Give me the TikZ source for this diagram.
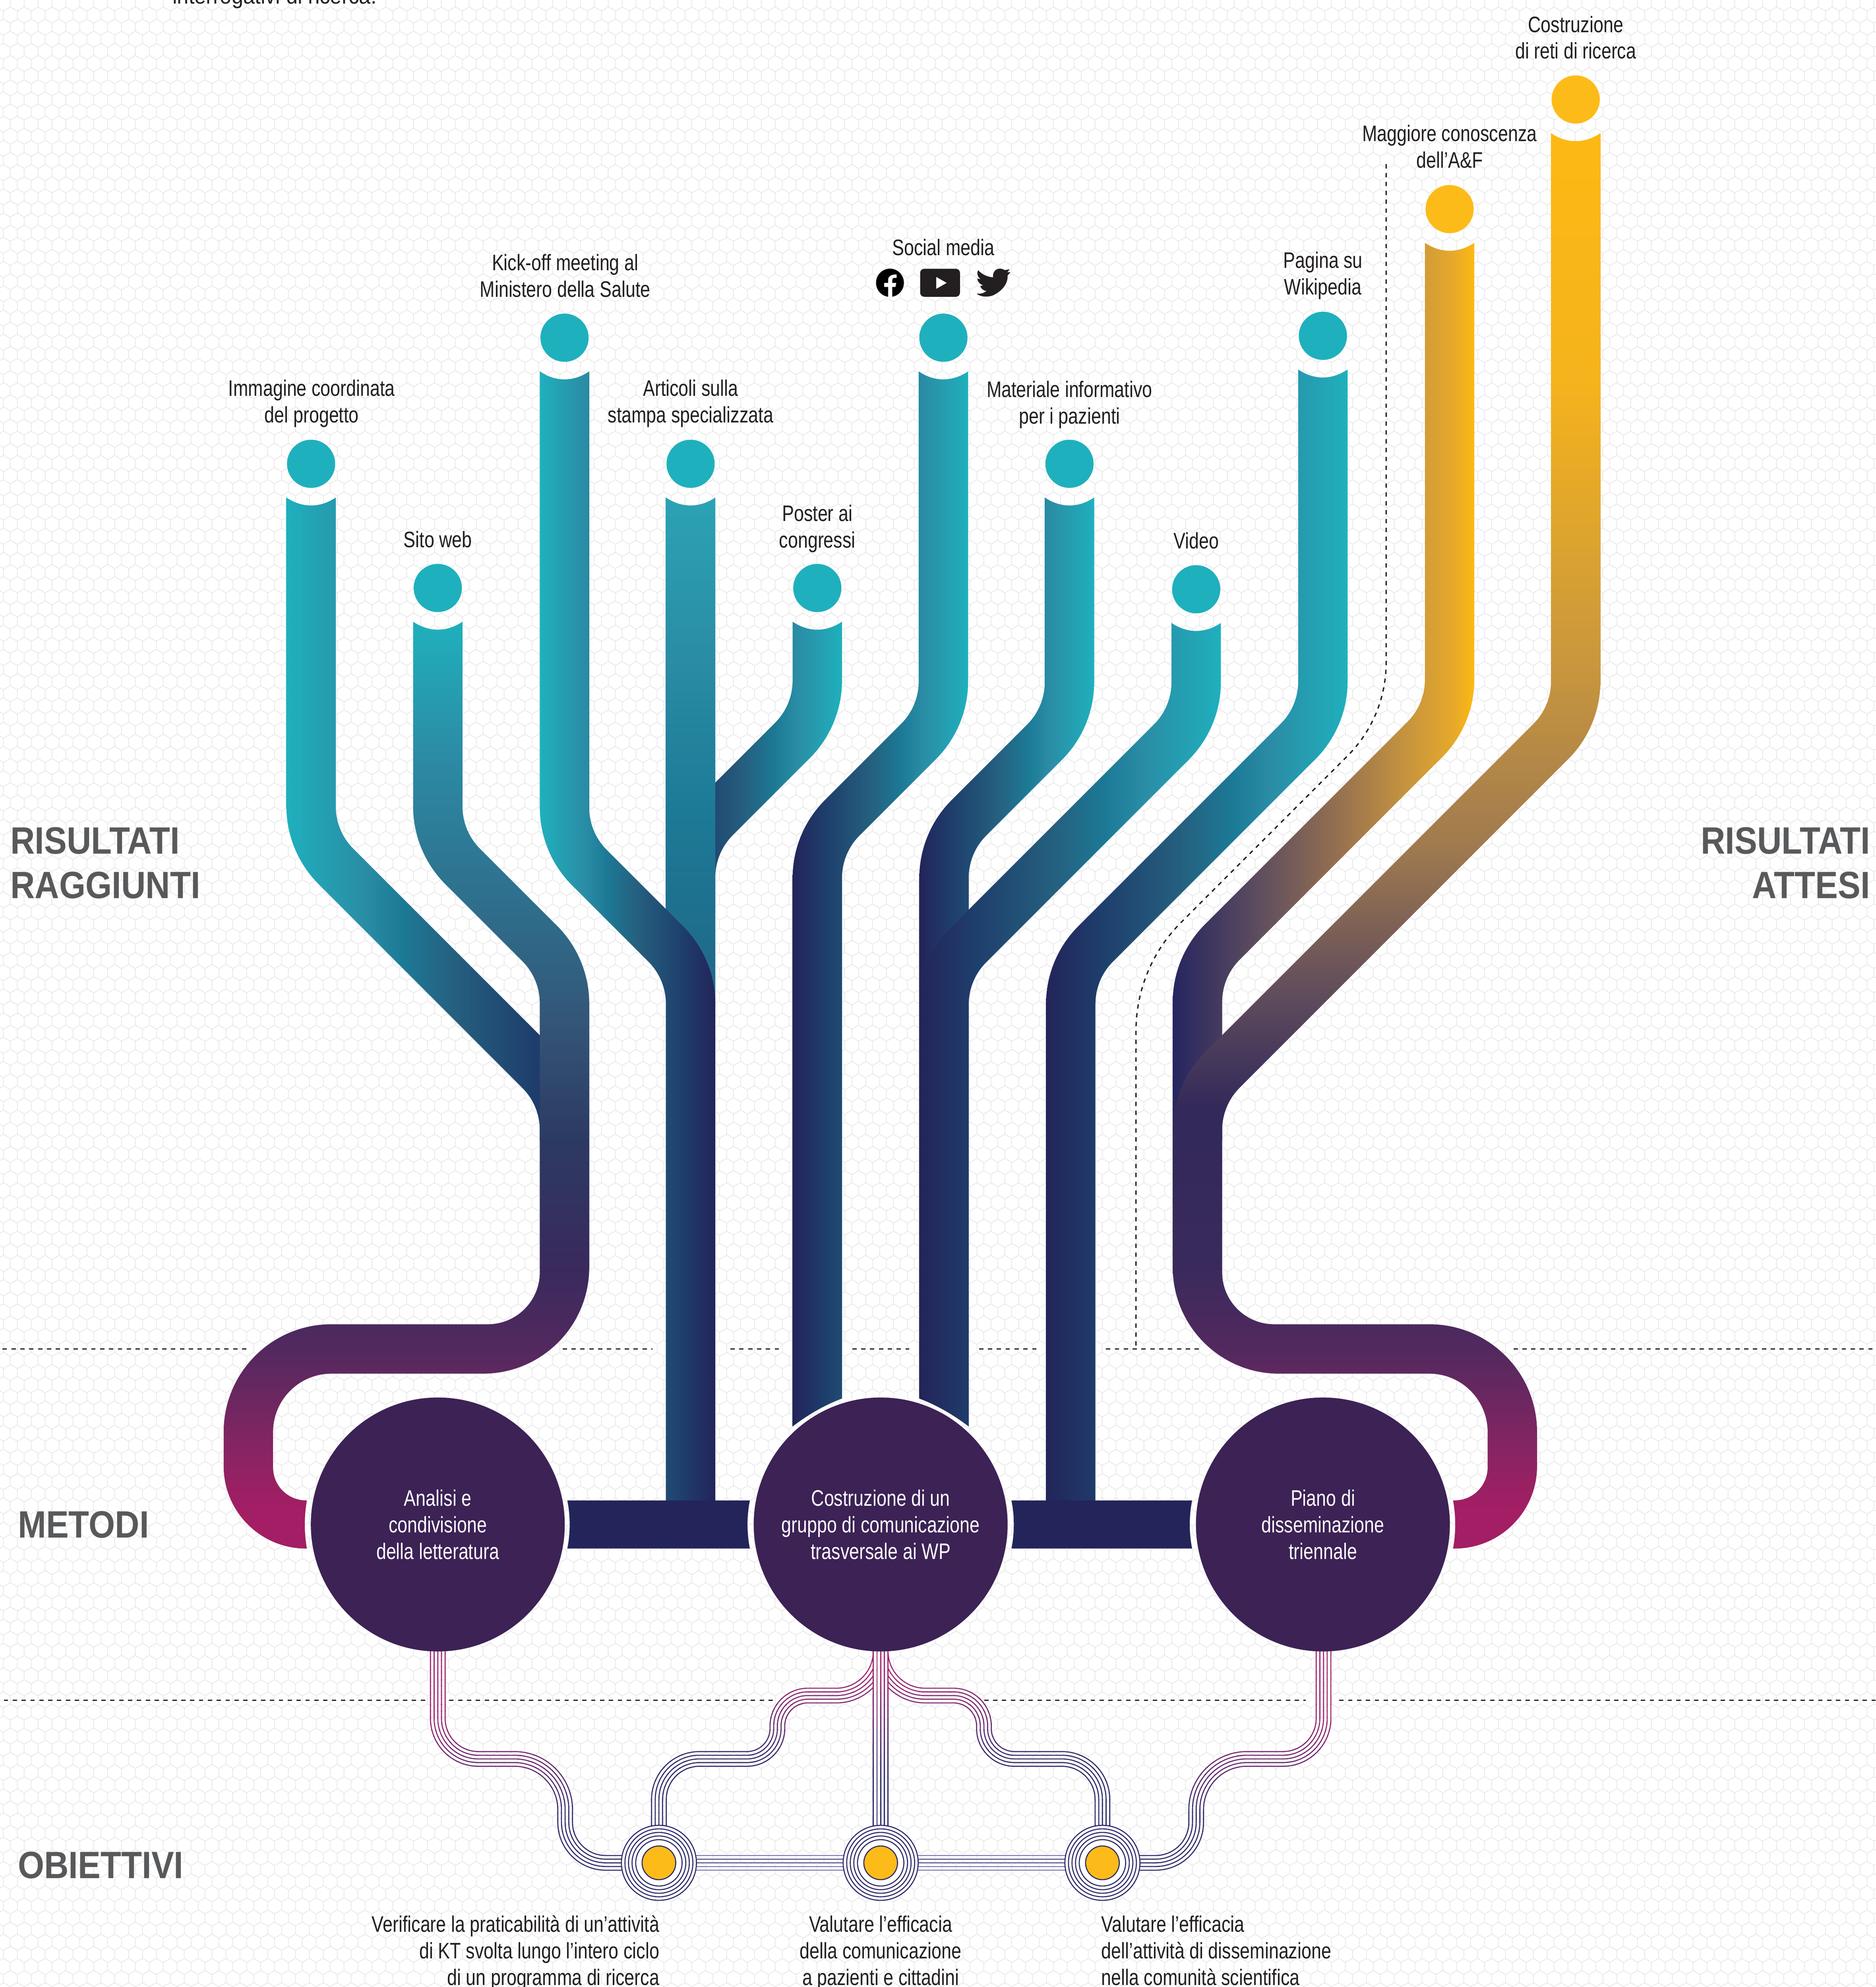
\documentclass[tikz,border=0pt]{standalone}
\usepackage{fontspec}
\setmainfont{Liberation Sans}
\newfontfamily\labff[FakeStretch=0.795]{Liberation Sans}
\newfontfamily\topff[FakeStretch=0.93]{Liberation Sans}
\newfontfamily\headff[FakeStretch=0.89]{Liberation Sans}
\usetikzlibrary{calc,patterns}
\definecolor{cteal}{HTML}{1FB0BD}
\definecolor{cnavy}{HTML}{23245A}
\definecolor{cyel}{HTML}{FDBB1A}
\definecolor{cdark}{HTML}{3C2255}
\definecolor{ctext}{HTML}{231F20}
\definecolor{chead}{HTML}{58595B}
\definecolor{g1}{HTML}{1E3F6C}
\definecolor{g2}{HTML}{25607F}
\definecolor{g3}{HTML}{1C7A96}
\definecolor{g4}{HTML}{2A8CA5}
\definecolor{strMag}{HTML}{A0246F}
\definecolor{strNavy}{HTML}{2A2866}
\definecolor{strLink}{HTML}{6A6AA3}
\definecolor{hexc}{HTML}{E2E2E2}
\newcommand{\mkc}[2]{\definecolor{#1}{HTML}{#2}}
\mkc{b1}{2C8AA4}\mkc{b2}{2F6A88}\mkc{b3}{345577}\mkc{b4}{2C3A63}\mkc{b5}{3A2A5C}\mkc{b6}{52295F}\mkc{b7}{8A2462}\mkc{b8}{A31E64}
\mkc{d0}{2BA3B4}\mkc{d3}{216688}
\mkc{j0}{28265F}\mkc{j1}{33295A}
\mkc{u0}{262560}\mkc{u1}{5F4E5E}\mkc{u2}{8F6C52}\mkc{u3}{C5933F}\mkc{u4}{E6A92A}\mkc{u5}{FDB913}
\mkc{k1}{F5B31D}\mkc{k2}{C9973D}\mkc{k3}{A07A4F}\mkc{k4}{5D4A5C}
\pgfdeclarehorizontalshading{navyteal}{100bp}{color(0bp)=(cnavy); color(25bp)=(cnavy); color(34.5bp)=(g1); color(47.5bp)=(g2); color(56bp)=(g3); color(62bp)=(g4); color(75bp)=(cteal); color(100bp)=(cteal)}
\pgfdeclarehorizontalshading{tealnavy}{100bp}{color(0bp)=(cteal); color(25bp)=(cteal); color(38bp)=(g4); color(44bp)=(g3); color(52.5bp)=(g2); color(65.5bp)=(g1); color(75bp)=(cnavy); color(100bp)=(cnavy)}
\pgfdeclareverticalshading{bshade}{100bp}{color(0bp)=(b8); color(27.25bp)=(b8); color(30bp)=(b7); color(35.8bp)=(b6); color(40bp)=(b5); color(47bp)=(b4); color(53.3bp)=(b3); color(58.5bp)=(b2); color(67.5bp)=(b1); color(75bp)=(cteal); color(100bp)=(cteal)}
\pgfdeclareverticalshading{dshade}{100bp}{color(0bp)=(d3); color(25bp)=(d3); color(44bp)=(g3); color(59bp)=(g4); color(75bp)=(d0); color(100bp)=(d0)}
\pgfdeclareverticalshading{jlow}{100bp}{color(0bp)=(b8); color(29.5bp)=(b8); color(35bp)=(b7); color(46.8bp)=(b6); color(55.6bp)=(b5); color(69.5bp)=(j1); color(75bp)=(j0); color(100bp)=(j0)}
\pgfdeclarehorizontalshading{jup}{100bp}{color(0bp)=(u0); color(25bp)=(u0); color(39.5bp)=(u1); color(51bp)=(u2); color(63.5bp)=(u3); color(71.5bp)=(u4); color(75bp)=(u5); color(100bp)=(u5)}
\pgfdeclareverticalshading{kshade}{100bp}{color(0bp)=(j1); color(26.6bp)=(j1); color(31.9bp)=(k4); color(39.6bp)=(k3); color(48.7bp)=(k2); color(62.7bp)=(k1); color(75bp)=(u5); color(100bp)=(u5)}
\newcommand{\hexcell}[2]{%
  \pgfpathmoveto{\pgfpoint{#1+0pt}{#2+3.185pt}}\pgfpathlineto{\pgfpoint{#1+0pt}{#2+9.555pt}}%
  \pgfpathlineto{\pgfpoint{#1+5.515pt}{#2+12.74pt}}\pgfpathlineto{\pgfpoint{#1+11.03pt}{#2+9.555pt}}%
  \pgfpathmoveto{\pgfpoint{#1+0pt}{#2+3.185pt}}\pgfpathlineto{\pgfpoint{#1+5.515pt}{#2+0pt}}%
  \pgfpathlineto{\pgfpoint{#1+11.03pt}{#2+3.185pt}}%
  \pgfpathmoveto{\pgfpoint{#1+5.515pt}{#2+12.74pt}}\pgfpathlineto{\pgfpoint{#1+5.515pt}{#2+19.11pt}}}
\pgfdeclarepatternformonly{hexbg}{\pgfpointorigin}{\pgfqpoint{11.03pt}{19.11pt}}{\pgfqpoint{11.03pt}{19.11pt}}{%
  \pgfsetlinewidth{.42pt}%
  \hexcell{3.1pt}{0.26pt}\hexcell{-7.93pt}{0.26pt}\hexcell{3.1pt}{-18.85pt}\hexcell{-7.93pt}{-18.85pt}%
  \pgfusepath{stroke}}
% rounded corners: 45-degree bend and 90-degree bend
\newcommand{\rB}[4]{-- ($(#2)!1pt*#4!(#1)$) .. controls ($(#2)!.36pt*#4!(#1)$) and ($(#2)!.36pt*#4!(#3)$) .. ($(#2)!1pt*#4!(#3)$)}
\newcommand{\rC}[4]{-- ($(#2)!1pt*#4!(#1)$) .. controls ($(#2)!.4477pt*#4!(#1)$) and ($(#2)!.4477pt*#4!(#3)$) .. ($(#2)!1pt*#4!(#3)$)}
% pipe descending to the right: x1, cap y, x2, c (y-x), yL, yR, shading
\newcommand{\pipeR}[7]{%
  \coordinate (t1) at ({#1-19.5},{#2+26.6});
  \coordinate (t2) at ({#1+19.5},{#2+26.6});
  \coordinate (pa) at ({#1-19.5},{#1-19.5+#4+27.65});
  \coordinate (pb) at ({#3-19.5},{#3-19.5+#4+27.65});
  \coordinate (bl) at ({#3-19.5},{#5});
  \coordinate (br) at ({#3+19.5},{#6});
  \coordinate (pc) at ({#3+19.5},{#3+19.5+#4-27.65});
  \coordinate (pd) at ({#1+19.5},{#1+19.5+#4-27.65});
  \shade[shading=#7] (t1) \rB{t1}{pa}{pb}{36} \rB{pa}{pb}{bl}{19.5} -- (bl) -- (br) \rB{br}{pc}{pd}{36} \rB{pc}{pd}{t2}{19.5} -- (t2) .. controls ({#1+7},{#2+35}) and ({#1-7},{#2+35}) .. (t1) -- cycle;
}
% pipe descending to the left: x1, cap y, x2, s (y+x), yL, yR, shading
\newcommand{\pipeL}[7]{%
  \coordinate (t1) at ({#1-19.5},{#2+26.6});
  \coordinate (t2) at ({#1+19.5},{#2+26.6});
  \coordinate (pd) at ({#1-19.5},{#4-27.65-#1+19.5});
  \coordinate (pc) at ({#3-19.5},{#4-27.65-#3+19.5});
  \coordinate (bl) at ({#3-19.5},{#5});
  \coordinate (br) at ({#3+19.5},{#6});
  \coordinate (pb) at ({#3+19.5},{#4+27.65-#3-19.5});
  \coordinate (pa) at ({#1+19.5},{#4+27.65-#1-19.5});
  \shade[shading=#7] (t1) \rB{t1}{pd}{pc}{19.5} \rB{pd}{pc}{bl}{36} -- (bl) .. controls ({#3-6.5},{(2*#5+#6)/3-2.5}) and ({#3+6.5},{(#5+2*#6)/3-2.5}) .. (br) \rB{br}{pb}{pa}{19.5} \rB{pb}{pa}{t2}{36} -- (t2) .. controls ({#1+7},{#2+35}) and ({#1-7},{#2+35}) .. (t1) -- cycle;
}
% colour-graded bundle of five fine lines: x0, x1 of a clip, y where the grade starts and ends, body using \dd
\newcommand{\gradstrand}[5]{%
  \foreach \yy in {1300,1305,...,1440} {%
    \pgfmathsetmacro\ttv{max(0,min(100,(\yy-#3)*100/(#4-#3)))}%
    \colorlet{sc}{strNavy!\ttv!strMag}%
    \begin{scope}
      \clip (#1,\yy) rectangle (#2,\yy+5.4);
      \foreach \dd in {-5.8,-2.9,0,2.9,5.8} {#5}
    \end{scope}
  }%
  \begin{scope}
    \clip (#1,1445) rectangle (#2,1480);
    \colorlet{sc}{strNavy}%
    \foreach \dd in {-5.8,-2.9,0,2.9,5.8} {#5}
  \end{scope}%
}
\tikzset{
  strand/.style={line width=.8pt,color=sc},
  ringline/.style={draw=strNavy,line width=.8pt,circle,inner sep=0pt},
  link/.style={line width=.8pt,color=strLink},
  dashline/.style={line width=1.05pt,color=ctext,dash pattern=on 3.4pt off 3.6pt},
  fixrules/.style={execute at begin node={\rule{0pt}{16pt}},execute at end node={\rule[-4pt]{0pt}{4pt}}},
  labeltext/.style={fixrules,font=\labff\fontsize{17.7}{21}\selectfont,text=ctext,align=center,inner sep=0pt},
  multitext/.style={labeltext,yshift=-2pt},
  headtext/.style={font=\headff\bfseries\fontsize{30}{35}\selectfont,text=chead,inner sep=0pt},
  dotteal/.style={circle,fill=cteal,minimum size=38pt,inner sep=0pt},
  dotyel/.style={circle,fill=cyel,minimum size=38pt,inner sep=0pt},
  bigcirc/.style={circle,fill=cdark,minimum size=200.4pt,inner sep=0pt},
}
\begin{document}
\begin{tikzpicture}[x=1pt,y=-1pt]
\useasboundingbox (0,0) rectangle (1480.3,1568);
\begin{scope}
\clip (0,0) rectangle (1480.3,1568);
\fill[white] (0,0) rectangle (1480.3,1568);
\fill[pattern=hexbg,pattern color=hexc] (0,0) rectangle (1480.3,1568);
% dashed rules
\foreach \a/\b in {2/196,444/515,576.4/616,672.6/717.6,772.6/819.4,872.8/946.7,1194.4/1480.3}
  \draw[dashline] (\a,1064.4) -- (\b,1064.4);
\foreach \a/\b in {3/336.5,354.5/611.6,776.7/1030.5,1056.9/1480.3}
  \draw[dashline] (\a,1341.8) -- (\b,1341.8);
\coordinate (q0) at (1093.9,129.5);
\coordinate (q1) at (1093.9,566);
\coordinate (q2) at (896.5,763.5);
\coordinate (q3) at (896.5,1063);
\draw[dashline] (q0) \rB{q0}{q1}{q2}{43} \rB{q1}{q2}{q3}{50} -- (q3);
% pipes
\pipeR{245.5}{366}{445.5}{418.6}{900}{900}{tealnavy}
% Sito web, down to the method circle
\coordinate (t1) at (326,490.6);
\coordinate (t2) at (365,490.6);
\coordinate (pa) at (326,672.25);
\coordinate (pb) at (426,772.25);
\coordinate (pc) at (426,1045);
\coordinate (pd) at (176.5,1045);
\coordinate (pe) at (176.5,1222);
\coordinate (pf) at (242.2,1222);
\coordinate (pg) at (242.2,1184);
\coordinate (ph) at (215.5,1184);
\coordinate (pi) at (215.5,1084);
\coordinate (pj) at (465,1084);
\coordinate (pk) at (465,755.95);
\coordinate (pl) at (365,655.95);
\shade[shading=bshade] (t1) \rB{t1}{pa}{pb}{36} \rB{pa}{pb}{pc}{19.5} \rC{pb}{pc}{pd}{41} \rC{pc}{pd}{pe}{85} \rC{pd}{pe}{pf}{65} -- (pf) .. controls (240,1210) and (240,1196) .. (pg) \rC{pg}{ph}{pi}{26} \rC{ph}{pi}{pj}{46} \rC{pi}{pj}{pk}{84} \rB{pj}{pk}{pl}{36} \rB{pk}{pl}{t2}{19.5} -- (t2) .. controls (352.5,499) and (338.5,499) .. (t1) -- cycle;
\pipeL{645}{464}{545}{1209.7}{720}{720}{navyteal}
% Articoli
\shade[shading=dshade] (525.5,392.6) -- (525.5,750) -- (564.5,795) -- (564.5,392.6) .. controls (552,401) and (538,401) .. (525.5,392.6) -- cycle;
\pipeR{445.5}{266.5}{545}{219.5}{1195}{1195}{tealnavy}
\pipeL{744.5}{266.5}{645}{1310}{1125.6}{1103.6}{navyteal}
\pipeL{844}{366}{745}{1410}{1103.6}{1125.6}{navyteal}
\pipeL{944}{465}{745}{1510}{1103.6}{1125.6}{navyteal}
\pipeL{1044}{265}{845}{1609.5}{1195}{1195}{navyteal}
% lower part of the right-hand pipe
\coordinate (ja) at (925.5,860);
\coordinate (jb) at (925.5,1084);
\coordinate (jc) at (1174,1084);
\coordinate (jd) at (1174,1184);
\coordinate (je) at (1146.7,1184);
\coordinate (jf) at (1146.7,1222);
\coordinate (jg) at (1213,1222);
\coordinate (jh) at (1213,1045);
\coordinate (ji) at (964.5,1045);
\coordinate (jj) at (964.5,860);
\shade[shading=jlow] (ja) \rC{ja}{jb}{jc}{84} \rC{jb}{jc}{jd}{46} \rC{jc}{jd}{je}{26} -- (je) .. controls (1149,1196) and (1149,1210) .. (jf) \rC{jf}{jg}{jh}{65} \rC{jg}{jh}{ji}{85} \rC{jh}{ji}{jj}{41} -- (jj) -- cycle;
\pipeL{1144}{165}{945}{1708}{864}{864}{jup}
\pipeL{1243.5}{78.5}{945}{1809}{900}{900}{kshade}
% horizontal bars between method circles
\coordinate (m1) at (345.5,1203);
\coordinate (m2) at (695,1203);
\coordinate (m3) at (1044,1203);
\fill[cnavy] (447.7,1184) .. controls (450.2,1196) and (450.2,1210) .. (447.7,1222) -- (591.8,1222) .. controls (589.3,1210) and (589.3,1196) .. (591.8,1184) -- cycle;
\fill[cnavy] (798.2,1184) .. controls (800.7,1196) and (800.7,1210) .. (798.2,1222) -- (940.8,1222) .. controls (938.3,1210) and (938.3,1196) .. (940.8,1184) -- cycle;
% fine lines
\coordinate (r1) at (520,1470);
\coordinate (r2) at (695,1470);
\coordinate (r3) at (870,1470);
\foreach \dd in {-5.8,-2.9,0,2.9,5.8} {
  \draw[link] ([yshift=\dd pt]r1) -- ([yshift=\dd pt]r2);
  \draw[link] ([yshift=\dd pt]r2) -- ([yshift=\dd pt]r3);
}
\gradstrand{0}{1480}{1350}{1430}{%
  \coordinate (s0) at ({345.5+\dd},1303);
  \coordinate (s1) at ({345.5+\dd},{1388-\dd});
  \coordinate (s2) at ({446+\dd},{1388-\dd});
  \coordinate (s3) at ({446+\dd},{1470-\dd});
  \coordinate (s4) at (492,{1470-\dd});
  \draw[strand] (s0) \rC{s0}{s1}{s2}{(32-\dd)} \rC{s1}{s2}{s3}{(40+\dd)} \rC{s2}{s3}{s4}{(32-\dd)} -- (s4);
  \coordinate (s0) at ({1044.5-\dd},1303);
  \coordinate (s1) at ({1044.5-\dd},{1388-\dd});
  \coordinate (s2) at ({944-\dd},{1388-\dd});
  \coordinate (s3) at ({944-\dd},{1470-\dd});
  \coordinate (s4) at (898,{1470-\dd});
  \draw[strand] (s0) \rC{s0}{s1}{s2}{(32-\dd)} \rC{s1}{s2}{s3}{(40+\dd)} \rC{s2}{s3}{s4}{(32-\dd)} -- (s4);
}
\gradstrand{0}{1480}{1320}{1395}{%
  \draw[strand] ({695+\dd},1303) -- ({695+\dd},1445);
}
\gradstrand{0}{689}{1320}{1390}{%
  \coordinate (s0) at ({695+\dd},1303);
  \coordinate (s1) at ({695+\dd},{1338+\dd});
  \coordinate (s2) at ({613.5+\dd},{1338+\dd});
  \coordinate (s3) at ({613.5+\dd},{1388+\dd});
  \coordinate (s4) at ({520+\dd},{1388+\dd});
  \coordinate (s5) at ({520+\dd},1445);
  \draw[strand] (s0) \rC{s0}{s1}{s2}{(35+\dd)} \rC{s1}{s2}{s3}{(24-\dd)} \rC{s2}{s3}{s4}{(24+\dd)} \rC{s3}{s4}{s5}{(32-\dd)} -- (s5);
}
\gradstrand{701}{1480}{1320}{1390}{%
  \coordinate (s0) at ({695-\dd},1303);
  \coordinate (s1) at ({695-\dd},{1338+\dd});
  \coordinate (s2) at ({776.5-\dd},{1338+\dd});
  \coordinate (s3) at ({776.5-\dd},{1388+\dd});
  \coordinate (s4) at ({870-\dd},{1388+\dd});
  \coordinate (s5) at ({870-\dd},1445);
  \draw[strand] (s0) \rC{s0}{s1}{s2}{(35+\dd)} \rC{s1}{s2}{s3}{(24-\dd)} \rC{s2}{s3}{s4}{(24+\dd)} \rC{s3}{s4}{s5}{(32-\dd)} -- (s5);
}
% target rings
\foreach \n in {r1,r2,r3} {
  \node[ringline,fill=white,minimum size=59.2pt] (\n o) at (\n) {};
  \foreach \s in {53.6,48,42.4,36.6} \node[ringline,minimum size=\s pt] at (\n) {};
  \node[ringline,fill=cyel,minimum size=26.6pt] (\n c) at (\n) {};
}
% method circles
\node[bigcirc] (mc1) at (m1) {};
\node[bigcirc] (mc2) at (m2) {};
\node[bigcirc] (mc3) at (m3) {};
\node[multitext,text=white] (mt1) at (mc1) {Analisi e\\condivisione\\della letteratura};
\node[multitext,text=white] (mt2) at (mc2) {Costruzione di un\\gruppo di comunicazione\\trasversale ai WP};
\node[multitext,text=white] (mt3) at (mc3) {Piano di\\disseminazione\\triennale};
% result dots
\node[dotteal] (d1) at (245.5,366) {};
\node[dotteal] (d2) at (345.5,464) {};
\node[dotteal] (d3) at (445.5,266.5) {};
\node[dotteal] (d4) at (545,366) {};
\node[dotteal] (d5) at (645,464) {};
\node[dotteal] (d6) at (744.5,266.5) {};
\node[dotteal] (d7) at (844,366) {};
\node[dotteal] (d8) at (944,465) {};
\node[dotteal] (d9) at (1044,265) {};
\node[dotyel] (d10) at (1144,165) {};
\node[dotyel] (d11) at (1243.5,78.5) {};
% labels
\node[multitext] (l1) at (246,316.5) {Immagine coordinata\\del progetto};
\node[labeltext] (l2) at (345.5,426) {Sito web};
\node[multitext] (l3) at (446,217.5) {Kick-off meeting al\\Ministero della Salute};
\node[multitext] (l4) at (545,316.5) {Articoli sulla\\stampa specializzata};
\node[multitext] (l5) at (645,415.5) {Poster ai\\congressi};
\node[labeltext] (l6) at (744.5,195.5) {Social media};
\node[multitext] (l7) at (844,317.5) {Materiale informativo\\per i pazienti};
\node[labeltext] (l8) at (944,427) {Video};
\node[multitext] (l9) at (1044,215.5) {Pagina su\\Wikipedia};
\node[multitext] (l10) at (1144,115.5) {Maggiore conoscenza\\dell’A\&F};
\node[multitext] (l11) at (1243.5,29.5) {Costruzione\\di reti di ricerca};
\node[multitext,align=right,anchor=east] (o1) at (520.5,1539) {Verificare la praticabilità di un’attività\\di KT svolta lungo l’intero ciclo\\di un programma di ricerca};
\node[multitext] (o2) at (695,1539) {Valutare l’efficacia\\della comunicazione\\a pazienti e cittadini};
\node[multitext,align=left,anchor=west] (o3) at (869,1539) {Valutare l’efficacia\\dell’attività di disseminazione\\nella comunità scientifica};
\node[font=\topff\fontsize{17.7}{21}\selectfont,text=ctext,inner sep=0pt,anchor=base west] (top) at (136,3) {interrogativi di ricerca.};
% section heads
\node[headtext,align=left,anchor=west] (h1) at (8,681) {RISULTATI\\RAGGIUNTI};
\node[headtext,align=right,anchor=east] (h2) at (1476,681) {RISULTATI\\ATTESI};
\node[headtext,anchor=west] (h3) at (14,1203) {METODI};
\node[headtext,anchor=west] (h4) at (14,1472) {OBIETTIVI};
% social icons
\begin{scope}[shift={(645pt,-161.2pt)},x=.1309pt,y=-.0977pt]
  \fill[black] (438,634) ellipse [x radius=84,y radius=114];
  \fill[white] (427,748) -- (427,668) -- (403,668) -- (403,635) -- (427,635) -- (427,610) .. controls (427,580) and (450,565) .. (478,567) -- (478,595) -- (462,595) .. controls (455,595) and (452,600) .. (452,610) -- (452,635) -- (476,635) -- (471,668) -- (452,668) -- (452,748) -- cycle;
  \fill[ctext,rounded corners=3.2pt] (620,521) -- (860,521) -- (860,747) -- (620,747) -- cycle;
  \fill[white] (717,587) -- (780,635) -- (717,683) -- cycle;
  \fill[ctext] (960,722) .. controls (985,725) and (1005,718) .. (1020,700) .. controls (1000,698) and (988,680) .. (982,660) -- (1000,655) .. controls (980,645) and (965,625) .. (965,600) -- (985,605) .. controls (965,585) and (960,555) .. (970,532) .. controls (990,565) and (1025,588) .. (1060,590) .. controls (1055,550) and (1075,520) .. (1100,520) .. controls (1112,520) and (1122,525) .. (1130,532) -- (1160,525) -- (1145,550) -- (1165,548) -- (1147,575) .. controls (1150,640) and (1115,700) .. (1060,735) .. controls (1030,752) and (985,750) .. (960,722) -- cycle;
\end{scope}
\end{scope}
\end{tikzpicture}
\end{document}
